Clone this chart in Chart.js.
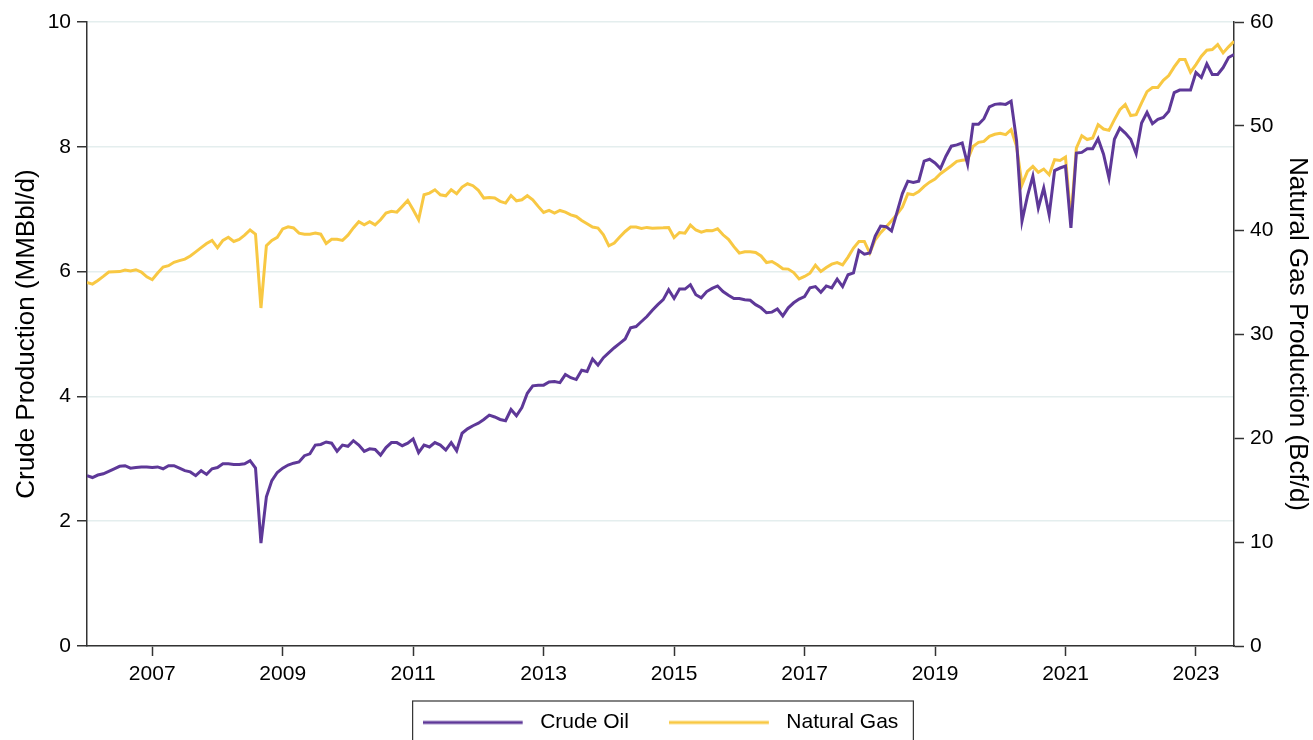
<!DOCTYPE html>
<html>
<head>
<meta charset="utf-8">
<script src="https://cdn.jsdelivr.net/npm/chart.js@4"></script>
<style>
  html, body { margin: 0; padding: 0; background: #fff; overflow: hidden; }
</style>
</head>
<body>
<canvas id="grafico" width="1313" height="740"></canvas>
<script>
// serie mensal, jan 2006 .. ago 2023
var startYear = 2006;
var yearTicks = [2007, 2009, 2011, 2013, 2015, 2017, 2019, 2021, 2023];

// MMBbl/d (eixo esquerdo)
var crudeOil = [
  2.73, 2.70, 2.74, 2.76, 2.80, 2.84, 2.88, 2.89, 2.85, 2.86, 2.87, 2.87,
  2.86, 2.87, 2.84, 2.89, 2.89, 2.85, 2.81, 2.79, 2.73, 2.81, 2.75, 2.84,
  2.86, 2.92, 2.92, 2.91, 2.91, 2.92, 2.97, 2.85, 1.65, 2.39, 2.65, 2.78,
  2.85, 2.90, 2.93, 2.95, 3.05, 3.08, 3.22, 3.23, 3.27, 3.25, 3.12, 3.22,
  3.20, 3.29, 3.22, 3.12, 3.16, 3.15, 3.06, 3.18, 3.26, 3.26, 3.21, 3.25,
  3.32, 3.10, 3.22, 3.19, 3.26, 3.22, 3.14, 3.26, 3.13, 3.41, 3.48, 3.53,
  3.57, 3.63, 3.70, 3.67, 3.63, 3.61, 3.79, 3.69, 3.82, 4.05, 4.17, 4.18,
  4.18, 4.23, 4.24, 4.22, 4.35, 4.30, 4.27, 4.42, 4.40, 4.60, 4.50, 4.62,
  4.70, 4.78, 4.85, 4.92, 5.10, 5.12, 5.20, 5.28, 5.38, 5.47, 5.55, 5.71,
  5.57, 5.72, 5.72, 5.79, 5.63, 5.58, 5.68, 5.73, 5.77, 5.68, 5.62, 5.57,
  5.57, 5.55, 5.54, 5.47, 5.42, 5.34, 5.35, 5.40, 5.29, 5.42, 5.50, 5.56,
  5.60, 5.74, 5.76, 5.67, 5.77, 5.74, 5.88, 5.76, 5.95, 5.98, 6.34, 6.28,
  6.30, 6.57, 6.73, 6.72, 6.65, 6.95, 7.25, 7.45, 7.43, 7.45, 7.77, 7.80,
  7.74, 7.65, 7.85, 8.01, 8.03, 8.06, 7.72, 8.36, 8.36, 8.45, 8.64, 8.68,
  8.69, 8.68, 8.73, 8.10, 6.81, 7.21, 7.53, 7.02, 7.34, 6.91, 7.62, 7.66,
  7.69, 6.70, 7.90, 7.91, 7.97, 7.97, 8.13, 7.88, 7.50, 8.12, 8.30, 8.22,
  8.12, 7.89, 8.38, 8.55, 8.37, 8.44, 8.47, 8.57, 8.87, 8.91, 8.91, 8.91,
  9.19, 9.11, 9.33, 9.16, 9.16, 9.27, 9.43, 9.48
];

// Bcf/d (eixo direito)
var naturalGas = [
  34.96, 34.80, 35.15, 35.54, 35.96, 35.99, 36.00, 36.15, 36.05, 36.18, 35.96, 35.50,
  35.22, 35.87, 36.44, 36.57, 36.89, 37.05, 37.20, 37.50, 37.90, 38.30, 38.70, 39.00,
  38.30, 39.00, 39.30, 38.90, 39.10, 39.50, 40.00, 39.60, 32.50, 38.50, 39.00, 39.30,
  40.10, 40.30, 40.20, 39.70, 39.60, 39.60, 39.70, 39.60, 38.70, 39.10, 39.10, 39.00,
  39.50, 40.20, 40.80, 40.50, 40.80, 40.50, 40.98, 41.63, 41.79, 41.72, 42.27, 42.84,
  41.95, 40.98, 43.39, 43.55, 43.87, 43.39, 43.29, 43.87, 43.50, 44.13, 44.45, 44.26,
  43.81, 43.07, 43.13, 43.07, 42.75, 42.59, 43.32, 42.81, 42.91, 43.30, 42.91, 42.27,
  41.69, 41.88, 41.63, 41.88, 41.72, 41.46, 41.30, 40.92, 40.60, 40.28, 40.18, 39.54,
  38.48, 38.74, 39.32, 39.86, 40.28, 40.28, 40.15, 40.25, 40.18, 40.20, 40.21, 40.24,
  39.28, 39.76, 39.70, 40.47, 40.00, 39.80, 39.95, 39.92, 40.12, 39.54, 39.10, 38.40,
  37.78, 37.90, 37.90, 37.84, 37.50, 36.87, 36.97, 36.65, 36.27, 36.24, 35.91, 35.30,
  35.53, 35.85, 36.62, 36.01, 36.39, 36.72, 36.87, 36.65, 37.39, 38.26, 38.90, 38.90,
  37.78, 39.06, 39.75, 40.30, 40.90, 41.50, 42.20, 43.49, 43.39, 43.70, 44.20, 44.60,
  44.90, 45.41, 45.80, 46.18, 46.60, 46.70, 46.76, 48.04, 48.43, 48.52, 49.00, 49.20,
  49.30, 49.17, 49.65, 48.04, 44.35, 45.63, 46.11, 45.54, 45.86, 45.32, 46.76, 46.69,
  47.02, 40.98, 47.88, 49.07, 48.70, 48.85, 50.13, 49.71, 49.58, 50.61, 51.57, 52.06,
  51.00, 51.09, 52.22, 53.30, 53.70, 53.70, 54.39, 54.85, 55.68, 56.39, 56.39, 55.17,
  55.91, 56.71, 57.29, 57.35, 57.83, 57.03, 57.61, 58.15
];

var FONT = "'Liberation Sans', Arial, sans-serif";
var AXIS = '#333333';
var PURPLE = '#5E3898';
var YELLOW = '#F8C843';

// pontos {x: ano decimal, y: valor}
function toPoints(arr) {
  return arr.map(function (v, i) { return { x: startYear + i / 12, y: v }; });
}

// simbolo da legenda: linha de 100px + folga a direita
function legendLine(color) {
  var c = document.createElement('canvas');
  c.width = 107;
  c.height = 6;
  var g = c.getContext('2d');
  g.fillStyle = color;
  g.fillRect(0, 1.5, 100, 3);
  return c;
}

// sobe a legenda para ficar junto dos rotulos do eixo x
var legendShift = {
  id: 'legendShift',
  afterLayout: function (chart) {
    var lg = chart.legend;
    if (!lg) return;
    lg.top -= 14;
  }
};

// moldura da legenda (o chart.js nao desenha)
var legendBorder = {
  id: 'legendBorder',
  afterDraw: function (chart) {
    var lg = chart.legend;
    if (!lg || !lg.legendHitBoxes || !lg.legendHitBoxes.length) return;
    var hb = lg.legendHitBoxes;
    var last = hb[hb.length - 1];
    var l = hb[0].left - 10;
    var r = last.left + last.width + 15;
    var t = hb[0].top - 11;
    var ctx = chart.ctx;
    ctx.save();
    ctx.strokeStyle = AXIS;
    ctx.lineWidth = 1.2;
    ctx.strokeRect(l, t, r - l, 80);
    ctx.restore();
  }
};

Chart.defaults.font.family = FONT;
Chart.defaults.color = '#111';

var ctx = document.querySelector('#grafico').getContext('2d');
var chart = new Chart(ctx, {
  type: 'line',
  data: {
    datasets: [{
      label: 'Crude Oil',
      data: toPoints(crudeOil),
      yAxisID: 'y',
      borderColor: PURPLE,
      backgroundColor: PURPLE,
      borderWidth: 3,
      pointRadius: 0,
      pointStyle: legendLine(PURPLE),
      tension: 0
    },
    {
      label: 'Natural Gas',
      data: toPoints(naturalGas),
      yAxisID: 'y2',
      borderColor: YELLOW,
      backgroundColor: YELLOW,
      borderWidth: 3,
      pointRadius: 0,
      pointStyle: legendLine(YELLOW),
      tension: 0
    }]
  },
  options: {
    responsive: false,
    animation: false,
    devicePixelRatio: 1,
    layout: { padding: { top: 22, left: 0, right: 0, bottom: 0 } },
    plugins: {
      tooltip: { enabled: false },
      legend: {
        position: 'bottom',
        fullSize: false,
        maxHeight: 54,
        labels: {
          usePointStyle: true,
          pointStyleWidth: 107,
          padding: 40,
          color: '#000',
          font: { size: 21 }
        }
      }
    },
    scales: {
      x: {
        type: 'linear',
        min: startYear,
        max: startYear + (crudeOil.length - 1) / 12,
        afterBuildTicks: function (s) {
          s.ticks = yearTicks.map(function (v) { return { value: v }; });
        },
        afterFit: function (s) { s.height = 40; },
        grid: { drawOnChartArea: false, tickLength: 10, tickColor: AXIS, tickWidth: 1.5 },
        border: { color: AXIS, width: 1.5 },
        ticks: {
          color: '#000',
          font: { size: 21 },
          padding: 6,
          maxRotation: 0,
          autoSkip: false,
          callback: function (v) { return String(v); }
        }
      },
      y: {
        position: 'left',
        min: 0,
        max: 10,
        afterFit: function (s) { s.width = 87; },
        grid: { color: '#E4EEEE', lineWidth: 1.5, tickLength: 10, tickColor: AXIS, tickWidth: 1.5 },
        border: { color: AXIS, width: 1.5 },
        ticks: { stepSize: 2, color: '#000', font: { size: 21 }, padding: 6 },
        title: {
          display: true,
          text: 'Crude Production (MMBbl/d)',
          color: '#000',
          font: { size: 26 },
          padding: { top: 11, bottom: 0 }
        }
      },
      y2: {
        position: 'right',
        min: 0,
        max: 60,
        afterFit: function (s) { s.width = 79; },
        grid: { drawOnChartArea: false, tickLength: 10, tickColor: AXIS, tickWidth: 1.5 },
        border: { color: AXIS, width: 1.5 },
        ticks: { stepSize: 10, color: '#000', font: { size: 21 }, padding: 6 },
        title: {
          display: true,
          text: 'Natural Gas Production (Bcf/d)',
          color: '#000',
          font: { size: 26 },
          padding: { top: 0, bottom: 0 }
        }
      }
    }
  },
  plugins: [legendShift, legendBorder]
});
</script>
</body>
</html>
